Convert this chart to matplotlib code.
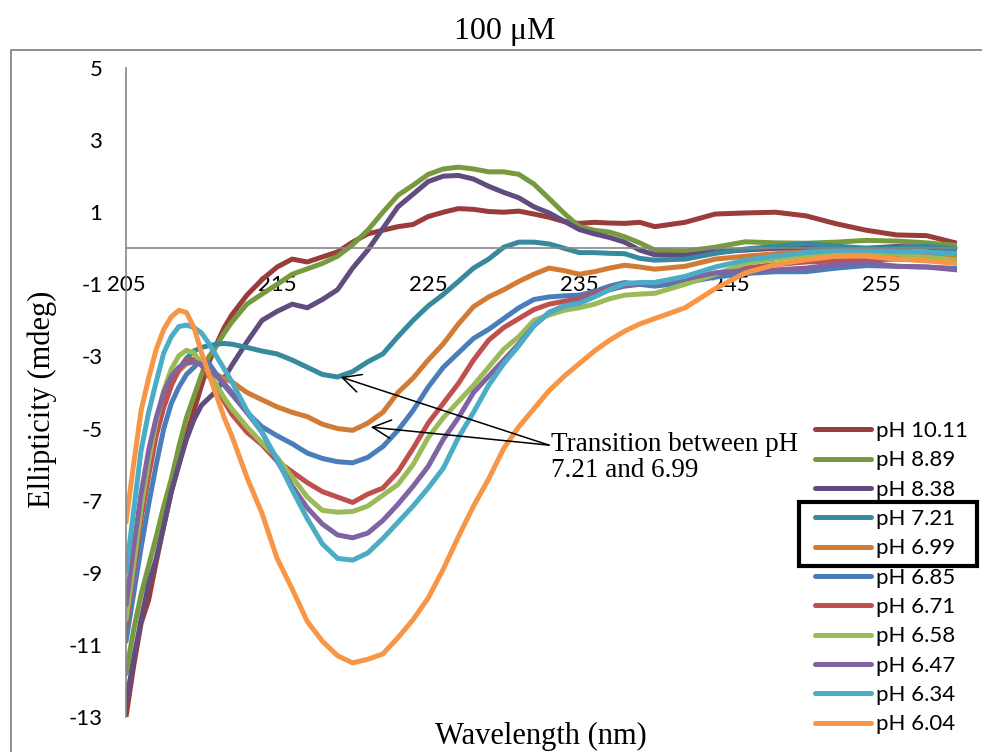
import numpy as np
import matplotlib.pyplot as plt
from matplotlib.patches import Rectangle
from matplotlib.lines import Line2D

plt.rcParams['font.family'] = ['Lato', 'DejaVu Sans']
plt.rcParams['axes.unicode_minus'] = False

# wavelength grid (nm)
wavelength = [205, 205.5, 206, 206.5, 207, 207.5, 208, 208.5, 209, 209.5, 210, 210.5, 211, 211.5, 212,
              213, 214, 215, 216, 217, 218, 219, 220, 221, 222, 223, 224, 225, 226, 227, 228, 229, 230,
              231, 232, 233, 234, 235, 236, 237, 238, 239, 240,
              242, 244, 246, 248, 250, 252, 254, 256, 258, 260]

ph_10_11 = [-13.0, -11.6, -10.4, -9.75, -8.7, -7.7, -6.75, -6.0, -5.2, -4.5, -3.8, -3.15, -2.65, -2.2, -1.85,
            -1.3, -0.87, -0.52, -0.3, -0.38, -0.24, -0.1, 0.17, 0.4, 0.5, 0.6, 0.66, 0.88, 1.0, 1.1, 1.08, 1.02, 1.0,
            1.03, 0.95, 0.86, 0.74, 0.69, 0.72, 0.7, 0.69, 0.72, 0.6,
            0.72, 0.95, 0.98, 1.0, 0.9, 0.68, 0.5, 0.37, 0.35, 0.14]
ph_8_89 = [-11.8, -10.6, -9.6, -8.8, -8.0, -7.15, -6.4, -5.5, -4.7, -4.1, -3.5, -3.0, -2.7, -2.35, -2.05,
           -1.55, -1.27, -1.0, -0.72, -0.57, -0.42, -0.22, 0.1, 0.5, 1.0, 1.47, 1.75, 2.05, 2.2, 2.25, 2.2, 2.12, 2.12,
           2.05, 1.78, 1.38, 0.97, 0.6, 0.5, 0.45, 0.32, 0.15, -0.05,
           -0.08, 0.03, 0.18, 0.15, 0.14, 0.17, 0.22, 0.2, 0.15, 0.08]
ph_8_38 = [-12.6, -11.4, -10.3, -9.3, -8.6, -7.7, -6.75, -6.0, -5.3, -4.75, -4.35, -4.15, -3.95, -3.6, -3.25,
           -2.6, -2.0, -1.75, -1.55, -1.65, -1.42, -1.15, -0.55, -0.05, 0.55, 1.15, 1.5, 1.85, 2.0, 2.02, 1.92, 1.72, 1.55,
           1.4, 1.15, 0.98, 0.75, 0.52, 0.4, 0.3, 0.17, -0.05, -0.18,
           -0.2, -0.1, -0.05, 0.0, 0.0, 0.0, 0.0, 0.05, 0.03, -0.05]
ph_7_21 = [-10.0, -8.6, -7.2, -6.1, -5.1, -4.4, -3.8, -3.35, -3.05, -2.85, -2.75, -2.7, -2.66, -2.64, -2.66,
           -2.75, -2.85, -2.93, -3.1, -3.3, -3.5, -3.57, -3.42, -3.15, -2.93, -2.45, -2.0, -1.6, -1.28, -0.92, -0.55, -0.3, 0.03,
           0.17, 0.17, 0.12, 0.0, -0.12, -0.12, -0.14, -0.15, -0.28, -0.33,
           -0.3, -0.14, -0.02, 0.05, 0.13, 0.06, 0.0, 0.0, 0.06, -0.02]
ph_6_99 = [-10.2, -8.7, -7.3, -6.1, -5.1, -4.3, -3.75, -3.4, -3.2, -3.15, -3.2, -3.35, -3.5, -3.62, -3.7,
           -4.0, -4.2, -4.4, -4.55, -4.67, -4.88, -5.0, -5.05, -4.85, -4.55, -4.0, -3.6, -3.1, -2.65, -2.1, -1.62, -1.35, -1.15,
           -0.92, -0.72, -0.55, -0.62, -0.72, -0.65, -0.55, -0.47, -0.52, -0.58,
           -0.5, -0.3, -0.22, -0.15, -0.1, -0.1, -0.13, -0.17, -0.22, -0.28]
ph_6_85 = [-10.9, -9.6, -8.3, -7.1, -6.0, -5.0, -4.3, -3.85, -3.5, -3.3, -3.1, -3.2, -3.5, -3.8, -4.05,
           -4.55, -4.95, -5.2, -5.42, -5.68, -5.83, -5.92, -5.95, -5.8, -5.5, -5.05, -4.5, -3.85, -3.3, -2.9, -2.5, -2.25, -1.95,
           -1.65, -1.42, -1.35, -1.32, -1.3, -1.2, -1.05, -0.95, -1.0, -1.05,
           -0.95, -0.8, -0.7, -0.65, -0.65, -0.55, -0.48, -0.5, -0.52, -0.56]
ph_6_71 = [-10.5, -9.0, -7.5, -6.3, -5.2, -4.4, -3.8, -3.35, -3.1, -3.08, -3.25, -3.55, -3.9, -4.25, -4.6,
           -5.1, -5.45, -5.9, -6.2, -6.5, -6.75, -6.9, -7.05, -6.82, -6.65, -6.2, -5.55, -4.85, -4.3, -3.75, -3.1, -2.55, -2.2,
           -1.95, -1.7, -1.55, -1.47, -1.4, -1.25, -1.12, -1.02, -0.98, -0.95,
           -0.82, -0.7, -0.55, -0.45, -0.38, -0.35, -0.32, -0.3, -0.32, -0.35]
ph_6_58 = [-10.3, -8.8, -7.2, -5.9, -4.8, -3.95, -3.35, -2.98, -2.83, -2.9, -3.2, -3.45, -3.8, -4.15, -4.45,
           -4.95, -5.4, -5.8, -6.35, -6.9, -7.27, -7.32, -7.3, -7.15, -6.85, -6.55, -6.0, -5.25, -4.7, -4.25, -3.8, -3.3, -2.8,
           -2.45, -2.0, -1.85, -1.72, -1.65, -1.55, -1.4, -1.3, -1.27, -1.25,
           -1.0, -0.72, -0.42, -0.3, -0.2, -0.1, -0.1, -0.15, -0.25, -0.33]
ph_6_47 = [-9.9, -8.3, -6.8, -5.6, -4.7, -4.0, -3.55, -3.3, -3.17, -3.15, -3.22, -3.38, -3.55, -3.75, -4.0,
           -4.55, -5.1, -5.9, -6.6, -7.2, -7.65, -7.95, -8.03, -7.9, -7.55, -7.1, -6.6, -6.05, -5.3, -4.7, -4.0, -3.55, -3.1,
           -2.65, -2.15, -1.78, -1.6, -1.47, -1.3, -1.15, -1.05, -1.0, -0.98,
           -0.85, -0.68, -0.62, -0.6, -0.55, -0.45, -0.4, -0.5, -0.52, -0.6]
ph_6_34 = [-9.0, -7.3, -5.6, -4.55, -3.7, -2.9, -2.45, -2.17, -2.13, -2.2, -2.35, -2.65, -3.0, -3.35, -3.7,
           -4.5, -5.1, -5.85, -6.7, -7.5, -8.2, -8.6, -8.65, -8.45, -8.05, -7.6, -7.15, -6.65, -6.1, -5.25, -4.55, -3.8, -3.2,
           -2.7, -2.15, -1.78, -1.6, -1.53, -1.35, -1.15, -0.98, -0.95, -0.95,
           -0.78, -0.52, -0.33, -0.22, -0.12, -0.06, -0.05, -0.1, -0.1, -0.15]
ph_6_04 = [-7.6, -6.0, -4.5, -3.6, -2.8, -2.25, -1.9, -1.72, -1.78, -2.2, -2.9, -3.5, -4.1, -4.7, -5.2,
           -6.35, -7.35, -8.6, -9.45, -10.35, -10.9, -11.3, -11.5, -11.4, -11.25, -10.8, -10.3, -9.7, -8.9, -8.0, -7.15, -6.4, -5.55,
           -4.95, -4.45, -3.95, -3.55, -3.2, -2.85, -2.55, -2.3, -2.1, -1.95,
           -1.65, -1.12, -0.68, -0.45, -0.32, -0.22, -0.22, -0.3, -0.35, -0.42]

series = [ph_10_11, ph_8_89, ph_8_38, ph_7_21, ph_6_99, ph_6_85,
          ph_6_71, ph_6_58, ph_6_47, ph_6_34, ph_6_04]
labels = ['pH 10.11', 'pH 8.89', 'pH 8.38', 'pH 7.21', 'pH 6.99', 'pH 6.85',
          'pH 6.71', 'pH 6.58', 'pH 6.47', 'pH 6.34', 'pH 6.04']
colors = ['#993C3A', '#789A3E', '#624C7F', '#378A9E', '#D17B34', '#4A7EBB',
          '#C0504D', '#9BBB59', '#8064A2', '#4BACC6', '#F79646']

W, H = 982, 752
fig = plt.figure(figsize=(W / 100, H / 100), dpi=100)
ax = fig.add_axes([126 / W, 1 - 717 / H, (957 - 126) / W, 649 / H])

for vals, lab, col in zip(series, labels, colors):
    ax.plot(wavelength, vals, color=col, lw=3.6, label=lab,
            solid_joinstyle='round', solid_capstyle='round')

ax.set_xlim(205, 260)
ax.set_ylim(-13, 5)
ax.set_xticks(np.arange(205, 261, 10))
ax.set_yticks(np.arange(-13, 6, 2))
for s in ['top', 'right']:
    ax.spines[s].set_visible(False)
ax.spines['bottom'].set_position(('data', 0))
for s in ['bottom', 'left']:
    ax.spines[s].set_color('#868686')
    ax.spines[s].set_linewidth(1.2)
ax.tick_params(length=0, labelsize=16)
ax.tick_params(axis='x', pad=19)
ax.tick_params(axis='y', pad=17)

# annotation with two arrows
tail = (233.0, -5.46)
for tip in [(219.2, -3.57), (221.2, -4.96)]:
    ax.annotate('', xy=tip, xytext=tail,
                arrowprops=dict(arrowstyle='->,head_length=0.6,head_width=0.3',
                                color='black', lw=1.1, mutation_scale=22,
                                shrinkA=0, shrinkB=0))
ax.text(233.15, -5.81, 'Transition between pH\n7.21 and 6.99', family='Liberation Serif',
        fontsize=19.5, ha='left', va='center', linespacing=1.05)

leg = ax.legend(loc='upper left', bbox_to_anchor=(815 / W, 1 - 421 / H),
                bbox_transform=fig.transFigure, frameon=False, fontsize=16,
                handlelength=2.5, handletextpad=0.25, labelspacing=0.42,
                borderpad=0, borderaxespad=0)

# box around the transition entries
fig.add_artist(Rectangle((799 / W, 1 - 566 / H), 178 / W, 64 / H, transform=fig.transFigure,
                         fill=False, edgecolor='black', lw=3))

# chart border
fig.add_artist(Line2D([11 / W, 11 / W, 1.01], [-0.01, 1 - 50 / H, 1 - 50 / H],
                      transform=fig.transFigure, color='#868686', lw=1.3))

fig.text(505 / W, 1 - 31 / H, '100 \u03bcM', family='Liberation Serif', fontsize=23,
         ha='center', va='center')
fig.text(42 / W, 1 - 399 / H, 'Ellipticity (mdeg)', family='Liberation Serif', fontsize=22,
         rotation=90, ha='center', va='center')
fig.text(541 / W, 1 - 736 / H, 'Wavelength (nm)', family='Liberation Serif', fontsize=22,
         ha='center', va='center')

fig.savefig('out.png', dpi=100)
